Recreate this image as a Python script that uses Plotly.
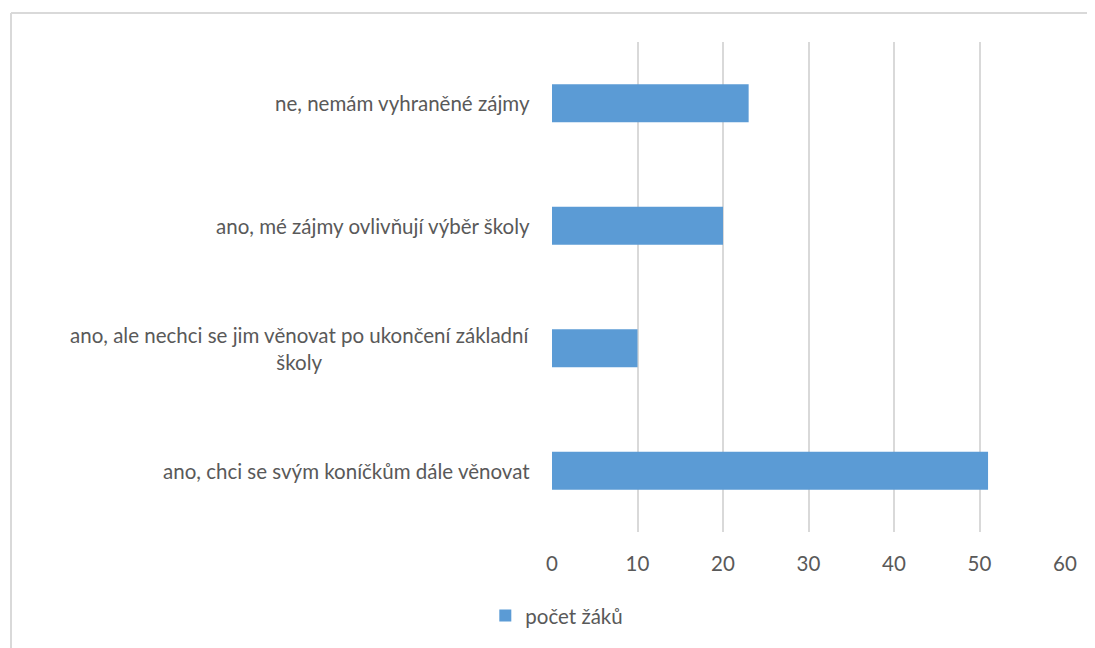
import plotly.graph_objects as go

# data, bottom to top as in the chart
categories = ['ano, chci se svým koníčkům dále věnovat',
              'ano, ale nechci se jim věnovat po ukončení základní<br>školy',
              'ano, mé zájmy ovlivňují výběr školy',
              'ne, nemám vyhraněné zájmy']
pocet_zaku = [51, 10, 20, 23]
x_ticks = [0, 10, 20, 30, 40, 50, 60]
series_name = 'počet žáků'

BLUE = '#5B9BD5'
TEXT = '#595959'
GRID = '#D9D9D9'
FONT = 'Lato'
FS = 20.5

fig = go.Figure()
fig.add_trace(go.Bar(
    x=pocet_zaku, y=categories, orientation='h',
    name=series_name, marker_color=BLUE,
    marker_line=dict(color=BLUE, width=0),
    showlegend=True,
))

# category labels as annotations so the wrapped one is centred like in Excel
for cat in categories:
    fig.add_annotation(
        x=0, xref='paper', y=cat, yref='y',
        text=cat, showarrow=False, xanchor='right', align='center',
        xshift=-20, font=dict(family=FONT, size=FS, color=TEXT))

# chart frame (only top and left edges are visible in the crop)
fig.add_shape(type='line', xref='paper', yref='paper',
              x0=-1.0546, x1=1.1, y0=1.0592, y1=1.0592,
              line=dict(color=GRID, width=2))
fig.add_shape(type='line', xref='paper', yref='paper',
              x0=-1.0546, x1=-1.0546, y0=1.0592, y1=-0.25,
              line=dict(color=GRID, width=2))

fig.update_layout(
    width=1087, height=640,
    margin=dict(l=544, r=30, t=34, b=116),
    paper_bgcolor='white', plot_bgcolor='white',
    font=dict(family=FONT, size=FS, color=TEXT),
    bargap=0.69,
    legend=dict(orientation='h', x=-0.13, xanchor='left',
                y=-0.171, yanchor='middle',
                font=dict(family=FONT, size=FS, color=TEXT),
                itemwidth=30),
)
fig.update_xaxes(range=[0, 60], tickvals=x_ticks, showgrid=True,
                 gridcolor=GRID, gridwidth=2, zeroline=False,
                 showline=False, ticks='', ticklabelstandoff=17,
                 tickfont=dict(family=FONT, size=FS, color=TEXT))
fig.update_yaxes(showticklabels=False, showgrid=False, zeroline=False,
                 showline=False, ticks='')

fig.write_html('out.html')
